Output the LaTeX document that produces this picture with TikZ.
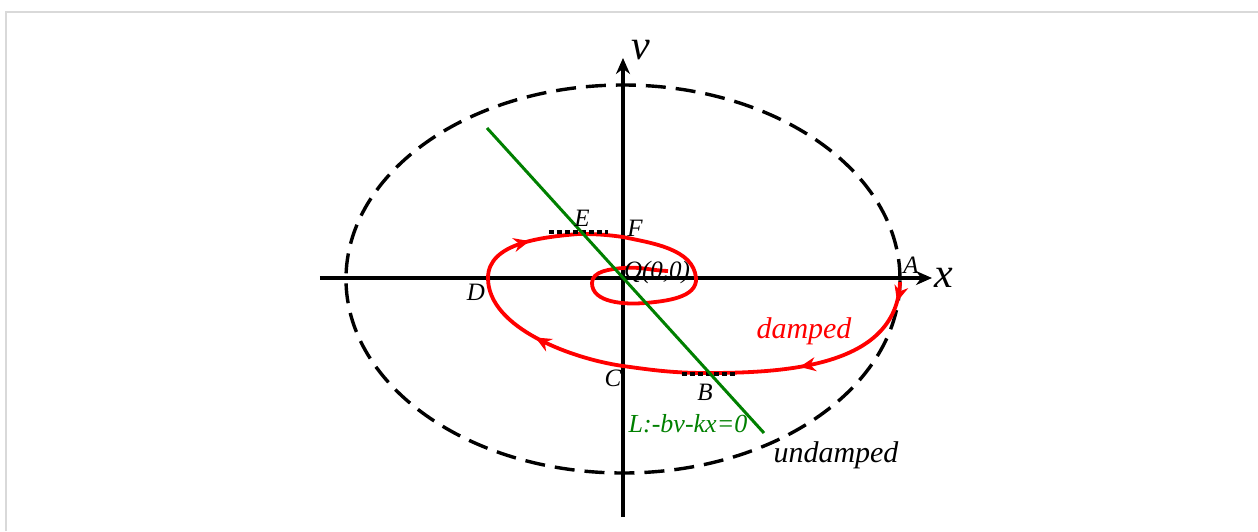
\documentclass[tikz,border=0pt]{standalone}
\usepackage{fontspec}
\setmainfont{Liberation Serif}
\usetikzlibrary{arrows.meta, decorations.markings}
\tikzset{
  axisline/.style={line width=1.7pt, -{Stealth[length=8pt, width=7pt]}},
  orbitline/.style={line width=1.7pt, dash pattern=on 10pt off 5pt},
  spiralline/.style={red, line width=1.9pt, postaction={decorate},
                     decoration={markings,
                       mark=at position 10pt with {\arrow{Stealth[length=8pt, width=7pt]}},
                       mark=at position 72pt with {\arrow{Stealth[length=8pt, width=7pt]}},
                       mark=at position 207pt with {\arrow{Stealth[length=8pt, width=7pt]}},
                       mark=at position 277pt with {\arrow{Stealth[length=8pt, width=7pt]}}}},
  tangentmark/.style={line width=1.8pt, dash pattern=on 2.5pt off 1.5pt},
  lineL/.style={draw=green!50!black, line width=1.5pt},
  ptlabel/.style={font=\fontsize{12.5}{14}\selectfont\itshape, inner sep=0pt},
  axislabel/.style={font=\fontsize{21}{24}\selectfont\itshape, inner sep=0pt},
  curvelabel/.style={font=\fontsize{15}{18}\selectfont\itshape, inner sep=0pt},
  framecol/.style={draw=black!15, line width=1pt},
}

\begin{document}
\begin{tikzpicture}[x=0.5pt, y=0.5pt]
  \useasboundingbox (-623,-253) rectangle (635,278);
  \draw[framecol] (-617,-253) -- (-617,266) -- (635,266);

  \coordinate (xl) at (-303,0);
  \coordinate (xr) at (309,0);
  \coordinate (vb) at (0,-239);
  \coordinate (vt) at (0,220);
  \draw[axisline] (xl) -- (xr);
  \draw[axisline] (vb) -- (vt);

  \draw[orbitline] (0,-1) ellipse [x radius=277, y radius=194];

  \coordinate (pA) at (277,-4);
  \coordinate (pB) at (85,-95);
  \coordinate (pC) at (0,-88);
  \coordinate (pD) at (-135,0);
  \coordinate (pE) at (-45,44);
  \coordinate (pF) at (0,41);
  \coordinate (pG) at (73,0);
  \coordinate (pH) at (22,-25);
  \coordinate (pI) at (-31,-5);
  \coordinate (pJ) at (0,10);
  \coordinate (pK) at (45,7);
  \draw[spiralline] (pA) to[out=-92, in=0] (pB) to[out=180, in=-8] (pC)
    to[out=172, in=-90, looseness=0.8] (pD) to[out=90, in=185, looseness=0.9] (pE)
    to[out=0, in=172] (pF) to[out=-12, in=95, looseness=0.9] (pG)
    to[out=-85, in=5, looseness=0.9] (pH) to[out=185, in=-90, looseness=0.9] (pI)
    to[out=90, in=185, looseness=0.9] (pJ) to[out=5, in=178] (pK);

  \coordinate (eL) at (-74,46);
  \coordinate (eR) at (-15,46);
  \coordinate (bL) at (59,-96);
  \coordinate (bR) at (112,-96);
  \draw[tangentmark] (eL) -- (eR);
  \draw[tangentmark] (bL) -- (bR);

  \coordinate (Ltop) at (-136,150);
  \coordinate (Lbot) at (141,-155);
  \draw[lineL] (Ltop) -- (Lbot);

  \node[axislabel] (xlab) at (321,0) {x};
  \node[axislabel] (vlab) at (18,228) {v};
  \node[ptlabel] (Alab) at (288,13) {A};
  \node[ptlabel] (Blab) at (82,-114) {B};
  \node[ptlabel] (Clab) at (-10,-100) {C};
  \node[ptlabel] (Dlab) at (-147,-14) {D};
  \node[ptlabel] (Elab) at (-41,60) {E};
  \node[ptlabel] (Flab) at (12,50) {F};
  \node[ptlabel] (Qlab) at (34,6) {Q(0,0)};
  \node[curvelabel, text=red] (dlab) at (181,-53) {damped};
  \node[ptlabel, text=green!50!black, font=\fontsize{13}{15}\selectfont\itshape] (Llab) at (65,-146) {L:-bv-kx=0};
  \node[curvelabel] (ulab) at (213,-177) {undamped};
\end{tikzpicture}
\end{document}
